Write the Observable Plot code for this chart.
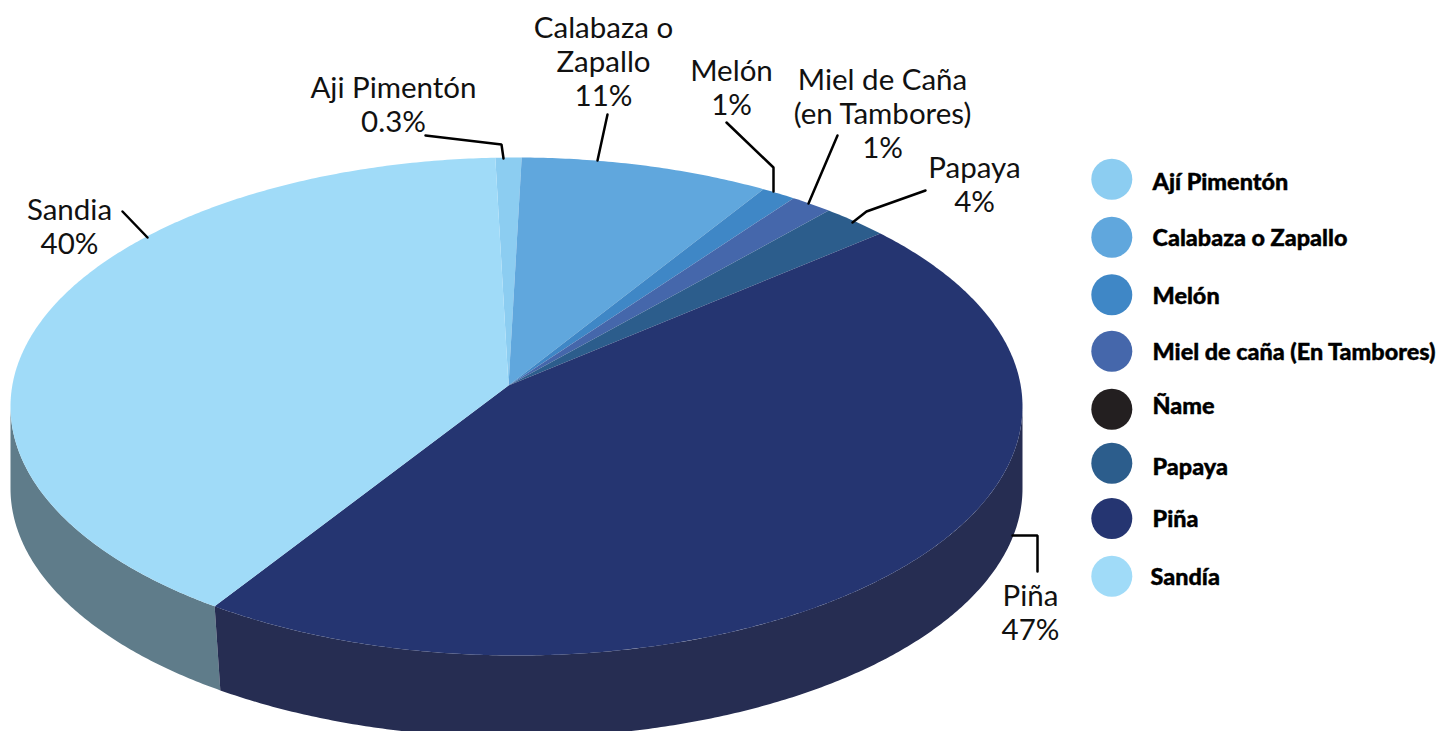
<!DOCTYPE html>
<html lang="es">
<head>
<meta charset="utf-8">
<title>Pie</title>
<script src="https://cdn.jsdelivr.net/npm/d3@7"></script>
<script src="https://cdn.jsdelivr.net/npm/@observablehq/plot@0.6"></script>
<style>
html,body{margin:0;padding:0;background:#fff;overflow:hidden}
svg{display:block}
</style>
</head>
<body>
<div id="chart"></div>
<script>
// Data
const legendNames = ["Ají Pimentón","Calabaza o Zapallo","Melón","Miel de caña (En Tambores)","Ñame","Papaya","Piña","Sandía"];
const legendColors = ["#8ccdf1","#60a7dd","#3f87c6","#4567ab","#231f20","#2c5d8c","#253571","#a0dbf8"];
const sliceNames = ["Ají Pimentón","Calabaza o Zapallo","Melón","Miel de caña (En Tambores)","Papaya","Piña","Sandía"];
// share of the rim each wedge takes as drawn (%)
const drawnShare = [0.83,7.95,1.11,1.36,2.19,47.4,39.16];
const calloutTexts = ["Aji Pimentón\n0.3%","Calabaza o\nZapallo\n11%","Melón\n1%","Miel de Caña\n(en Tambores)\n1%","Papaya\n4%","Piña\n47%","Sandia\n40%"];

// Layout
const W = 1437, H = 731;
const apex = [508,385], centre = [516,406], rx = 506, ry = 249, depth = 82;
const startDeg = -2.4;
const rim = (deg, dy=0) => {
  const a = deg*Math.PI/180;
  return {x: centre[0]+rx*Math.sin(a), y: centre[1]-ry*Math.cos(a)+dy};
};
const arc = (a,b,dy=0) => {
  const n = Math.max(2,Math.ceil(Math.abs(b-a)*2));
  return d3.range(n+1).map(i => rim(a+(b-a)*i/n,dy));
};
let cum = startDeg;
const wedges = sliceNames.flatMap((name,i) => {
  const a = cum, b = cum + drawnShare[i]*3.6; cum = b;
  return [{x:apex[0],y:apex[1]},...arc(a,b)].map(p => ({...p,name}));
});
const bounds = d3.cumsum(drawnShare).map(v => startDeg+v*3.6);
const pinaEnd = bounds[5];
const skew = -0.8;
const sideSandia = [...arc(pinaEnd,270),...arc(270,pinaEnd+skew,depth)];
const sidePina = [...arc(90,pinaEnd),...arc(pinaEnd+skew,90,depth)];

const calloutX = [393,603,731,882,974,1030,69];
const calloutY = [103.5,61,87,112.5,183.5,611.5,226];
const leaders = [
  [[425,135],[501,144],[503,158]],
  [[607,114],[597,160]],
  [[726,122],[773,167],[773,191]],
  [[837,135],[808,203]],
  [[925,190],[866,211],[852,222]],
  [[1012,535],[1037,535],[1037,571]],
  [[122,211],[147,237]]
].flatMap((pts,k)=>pts.map(([x,y])=>({x,y,k})));
const legendDotY = [178.7,236.7,294.3,350.7,408.7,462.7,518,575.7];
const legendTextY = [182,238,296,352,406,467,519,577];
const legendTextX = [1152,1152,1152,1152,1152,1152,1152,1150];
const legendRows = legendNames.map((name,i)=>({name,dy:legendDotY[i],ty:legendTextY[i],tx:legendTextX[i]}));
const callouts = calloutTexts.map((t,i)=>({t,x:calloutX[i],y:calloutY[i]}));

const chart = Plot.plot({
  width:W,height:H,margin:0,
  style:{background:"#fff",fontFamily:"Lato, sans-serif"},
  x:{domain:[0,W],range:[0,W],axis:null},
  y:{domain:[0,H],range:[0,H],axis:null},
  color:{domain:legendNames,range:legendColors},
  marks:[
    Plot.line(sideSandia,{x:"x",y:"y",fill:"#5f7c8a",stroke:"none"}),
    Plot.line(sidePina,{x:"x",y:"y",fill:"#262d52",stroke:"none"}),
    Plot.line(wedges,{x:"x",y:"y",z:"name",fill:"name",stroke:"none"}),
    Plot.line(leaders,{x:"x",y:"y",z:"k",stroke:"#000",strokeWidth:2.5,strokeLinejoin:"miter"}),
    Plot.text(callouts,{x:"x",y:"y",text:"t",fontSize:29.5,lineHeight:1.15,fill:"#111",fontWeight:400}),
    Plot.dot(legendRows,{x:()=>1111.3,y:"dy",r:20.5,fill:"name",stroke:"none"}),
    Plot.text(legendRows,{x:"tx",y:"ty",text:"name",textAnchor:"start",fontSize:23.4,fontWeight:900,fill:"#000",stroke:"#000",strokeWidth:0.4})
  ]
});
document.getElementById("chart").append(chart);
</script>
</body>
</html>
